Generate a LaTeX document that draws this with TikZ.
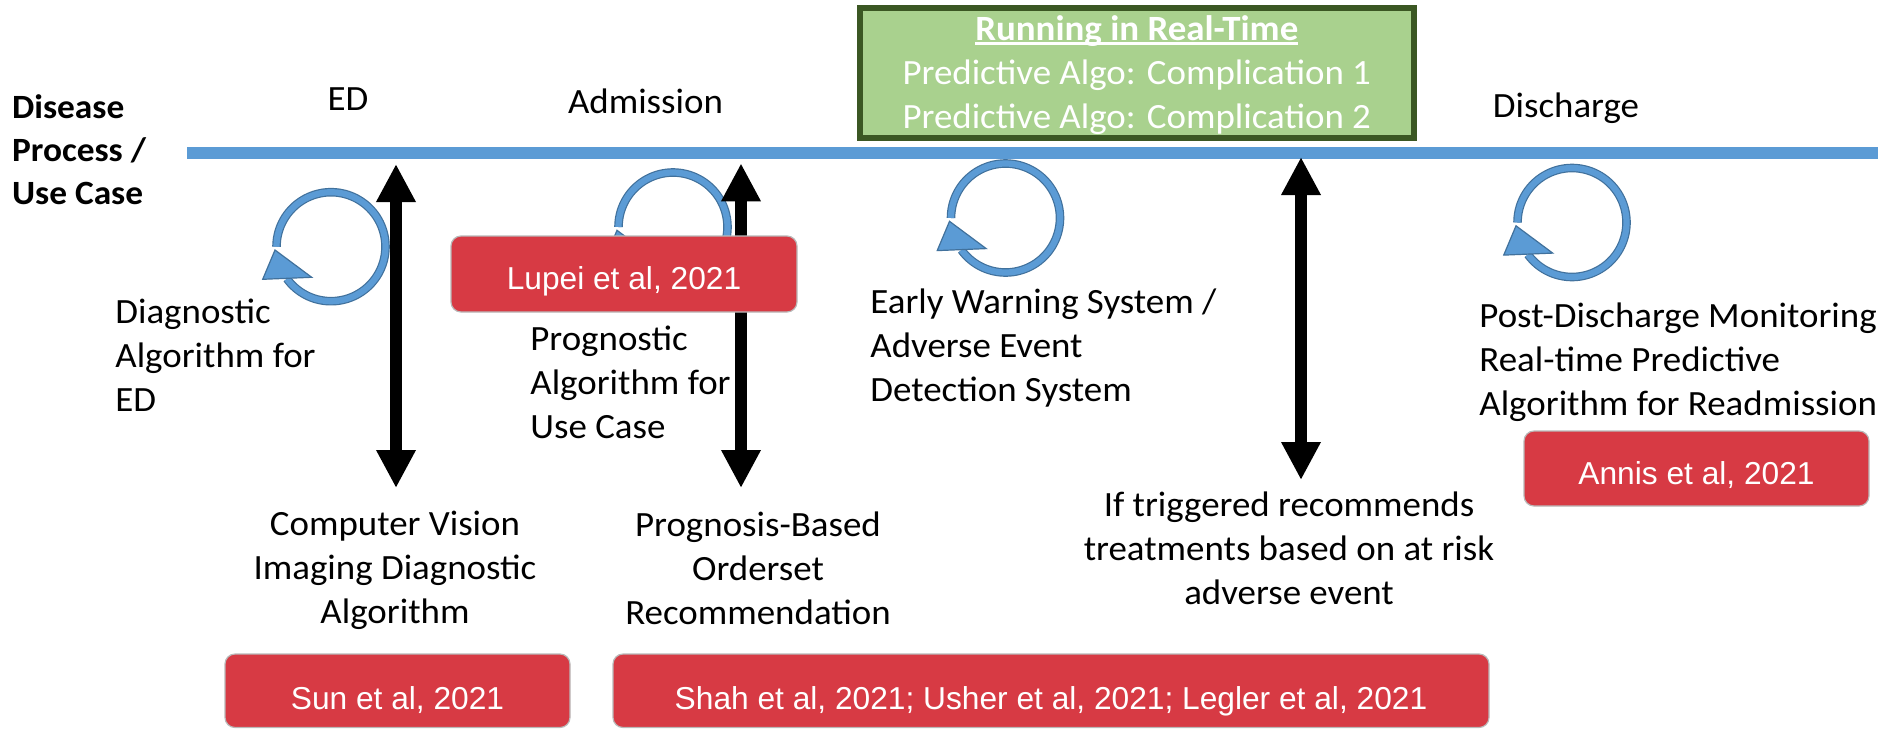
\documentclass[tikz,border=0pt]{standalone}
\usepackage{fontspec}
\setmainfont{Carlito}[FakeStretch=1.04]
\newfontfamily\arialf{Liberation Sans}
\usetikzlibrary{arrows.meta}
\definecolor{lineblue}{RGB}{91,155,213}
\definecolor{ringedge}{RGB}{65,113,156}
\definecolor{refred}{RGB}{215,58,68}
\definecolor{greenfill}{RGB}{169,209,142}
\definecolor{greenedge}{RGB}{59,87,35}
\newcommand\myul[1]{\setbox0\hbox{#1}\rlap{\rule[-2pt]{\wd0}{1.3pt}}\box0}
\newcommand\mlines[2]{\begin{tabular}[t]{@{}#1@{}}#2\end{tabular}}
\tikzset{
  lbl/.style={inner sep=0pt, font=\fontsize{17.75}{22}\selectfont, text=black},
  hdr/.style={inner sep=0pt, font=\bfseries\fontsize{17}{21.5}\selectfont, text=black},
  refbox/.style={rounded corners=5pt, fill=refred, draw=gray!55, line width=0.6pt,
    text=white, font=\arialf\fontsize{15.85}{18}\selectfont, inner sep=0pt},
  gbox/.style={fill=greenfill, draw=greenedge, line width=3pt, inner sep=0pt,
    text=white, font=\fontsize{17.75}{22}\selectfont},
  twoarrow/.style={line width=6pt, {Triangle[width=18.5pt,length=19pt]}-{Triangle[width=18.5pt,length=19pt]}},
  ringline/.style={draw=ringedge, line width=0.6pt, double=lineblue, double distance=3.1pt},
  ringhead/.style={fill=lineblue, draw=ringedge, line width=0.6pt, line join=miter},
  cycarrow/.pic={
    \draw[ringline] plot[domain=180:504, samples=100] ({54.5*cos(\x)},{54.5*sin(\x)});
    \filldraw[ringhead] (-68.3,32.6) -- (-19.3,30.6) -- (-56,3.3) -- cycle;
  }
}
\begin{document}
\begin{tikzpicture}[x=0.5pt, y=-0.5pt]
\useasboundingbox (0,0) rectangle (1885,729);

% timeline
\coordinate (tl0) at (187,153);
\coordinate (tl1) at (1878,153);
\draw[lineblue, line width=6.2pt] (tl0) -- (tl1);

% header
\node[hdr, anchor=base west] (dp) at (11.7,118.3) {\mlines{l}{Disease\\Process /\\Use Case}};

% phase labels
\node[lbl, anchor=base] (ed) at (348,110.7) {ED};
\node[lbl, anchor=base] (adm) at (645.5,113) {Admission};
\node[lbl, anchor=base] (dis) at (1566,117.3) {Discharge};

% green box
\node[gbox, anchor=base, minimum width=276.75pt, text height=16.25pt, text depth=48.75pt]
  (rt) at (1136.75,40.5) {\mlines{c}{\bfseries\myul{Running in Real-Time}\\Predictive Algo: Complication 1\\Predictive Algo: Complication 2}};

% cycle arrows
\pic at (331,246.7) {cycarrow};
\pic at (673,227) {cycarrow};
\pic at (1005.5,218) {cycarrow};
\pic at (1572,222.5) {cycarrow};

% double arrows
\coordinate (a1t) at (396,164);
\coordinate (a1b) at (396,488);
\coordinate (a2t) at (741,163.3);
\coordinate (a2b) at (741,488);
\coordinate (a3t) at (1301,157);
\coordinate (a3b) at (1301,480);
\draw[twoarrow] (a1t) -- (a1b);
\draw[twoarrow] (a2t) -- (a2b);
\draw[twoarrow] (a3t) -- (a3b);

% reference boxes
\node[refbox, anchor=base, minimum width=173pt, text height=26.75pt, text depth=11.25pt]
  (lupei) at (624,289.5) {Lupei et al, 2021};
\node[refbox, anchor=base, minimum width=172.5pt, text height=27.5pt, text depth=9.25pt]
  (sun) at (397.5,709) {Sun et al, 2021};
\node[refbox, anchor=base, minimum width=438pt, text height=27.5pt, text depth=9.25pt]
  (shah) at (1051,709) {Shah et al, 2021; Usher et al, 2021; Legler et al, 2021};
\node[refbox, anchor=base, minimum width=172.5pt, text height=26.5pt, text depth=11pt]
  (annis) at (1696.5,484) {Annis et al, 2021};

% labels
\node[lbl, anchor=base west] (diag) at (115,323.3) {\mlines{l}{Diagnostic\\Algorithm for\\ED}};
\node[lbl, anchor=base west] (prog) at (530,350) {\mlines{l}{Prognostic\\Algorithm for\\Use Case}};
\node[lbl, anchor=base] (cv) at (395,535) {\mlines{c}{Computer Vision\\Imaging Diagnostic\\Algorithm}};
\node[lbl, anchor=base] (pb) at (758,536.7) {\mlines{c}{Prognosis-Based\\Orderset\\Recommendation}};
\node[lbl, anchor=base west] (ew) at (870,313.3) {\mlines{l}{Early Warning System /\\Adverse Event\\Detection System}};
\node[lbl, anchor=base] (trig) at (1289,516.7) {\mlines{c}{If triggered recommends\\treatments based on at risk\\adverse event}};
\node[lbl, anchor=base west] (post) at (1479,327) {\mlines{l}{Post-Discharge Monitoring\\Real-time Predictive\\Algorithm for Readmission}};
\end{tikzpicture}
\end{document}
